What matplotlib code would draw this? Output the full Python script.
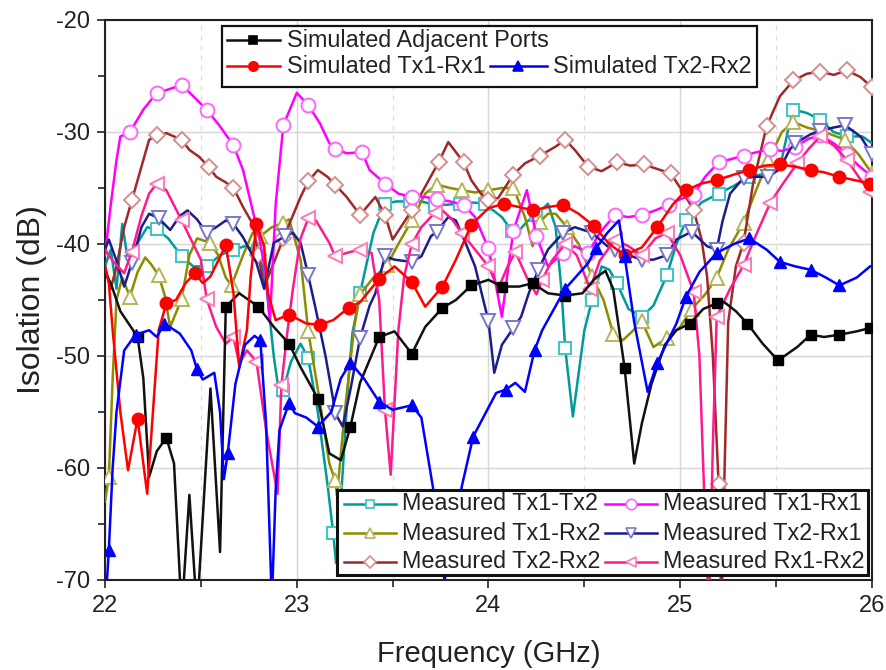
import matplotlib
matplotlib.use('Agg')
import matplotlib.pyplot as plt
from matplotlib.patches import Rectangle

plt.rcParams['font.family'] = ['Liberation Sans', 'DejaVu Sans']
plt.rcParams['axes.unicode_minus'] = False

# ---------------- data: (frequency GHz, isolation dB, marker flag) ----------------
sim_adjacent = [
    (22.00, -42.5, 0), (22.03, -43.5, 0), (22.08, -46.0, 0), (22.17, -48.3, 1), (22.20, -52.0, 0),
    (22.23, -60.8, 0), (22.27, -58.5, 0), (22.32, -57.3, 1), (22.36, -59.6, 0), (22.40, -73.0, 0),
    (22.44, -62.4, 0), (22.48, -73.0, 0), (22.55, -52.9, 0), (22.60, -67.5, 0), (22.63, -45.6, 1),
    (22.70, -44.4, 0), (22.80, -45.6, 1), (22.88, -47.4, 0), (22.96, -48.9, 1), (23.02, -51.0, 0),
    (23.11, -53.8, 1), (23.17, -58.7, 0), (23.23, -59.3, 0), (23.28, -56.3, 1), (23.33, -52.4, 0),
    (23.43, -48.3, 1), (23.51, -47.8, 0), (23.60, -49.8, 1), (23.67, -47.4, 0), (23.76, -45.7, 1),
    (23.83, -45.0, 0), (23.91, -43.7, 1), (24.00, -43.2, 0), (24.07, -43.8, 1), (24.16, -43.8, 0),
    (24.23, -43.5, 1), (24.31, -44.4, 0), (24.40, -44.6, 1), (24.49, -44.4, 0), (24.56, -43.0, 0),
    (24.61, -42.4, 0), (24.65, -44.0, 0), (24.68, -47.5, 0), (24.71, -51.1, 1), (24.76, -59.6, 0),
    (24.80, -56.0, 0), (24.85, -52.5, 0), (24.92, -49.0, 0), (24.98, -47.7, 0), (25.05, -47.1, 1),
    (25.12, -45.8, 0), (25.19, -45.3, 1), (25.23, -45.2, 0), (25.29, -46.0, 0), (25.35, -47.1, 1),
    (25.43, -48.9, 0), (25.51, -50.4, 1), (25.61, -49.2, 0), (25.68, -48.1, 1), (25.75, -48.3, 0),
    (25.83, -48.1, 1), (25.92, -47.8, 0), (25.99, -47.5, 1),
]
sim_tx1rx1 = [
    (22.00, -42.0, 0), (22.02, -43.5, 0), (22.04, -47.7, 0), (22.08, -55.0, 0), (22.12, -60.2, 0),
    (22.17, -55.6, 1), (22.22, -62.3, 0), (22.25, -55.0, 0), (22.28, -47.7, 0), (22.32, -45.3, 1),
    (22.37, -45.0, 0), (22.42, -43.5, 0), (22.47, -42.6, 1), (22.51, -43.5, 0), (22.55, -42.9, 0),
    (22.59, -41.5, 0), (22.63, -40.1, 1), (22.67, -44.4, 0), (22.70, -51.0, 0), (22.74, -47.7, 0),
    (22.76, -42.9, 0), (22.79, -38.2, 1), (22.83, -40.2, 0), (22.85, -44.4, 0), (22.89, -46.8, 0),
    (22.96, -46.3, 1), (23.05, -47.1, 0), (23.12, -47.2, 1), (23.19, -46.8, 0), (23.27, -45.7, 1),
    (23.33, -45.2, 0), (23.43, -43.1, 1), (23.51, -42.0, 0), (23.60, -43.4, 1), (23.67, -45.6, 0),
    (23.76, -43.8, 1), (23.83, -41.4, 0), (23.91, -38.3, 1), (24.00, -36.8, 0), (24.08, -36.4, 1),
    (24.16, -36.7, 0), (24.23, -37.0, 1), (24.31, -36.7, 0), (24.39, -36.5, 1), (24.47, -37.3, 0),
    (24.55, -38.4, 1), (24.63, -40.0, 0), (24.71, -41.0, 1), (24.80, -40.3, 0), (24.88, -38.5, 1),
    (24.96, -36.5, 0), (25.03, -35.2, 1), (25.11, -34.6, 0), (25.19, -34.3, 1), (25.28, -33.8, 0),
    (25.36, -33.4, 1), (25.44, -33.0, 0), (25.52, -32.9, 1), (25.60, -33.1, 0), (25.68, -33.4, 1),
    (25.75, -33.6, 0), (25.83, -34.0, 1), (25.91, -34.3, 0), (25.99, -34.6, 1),
]
sim_tx2rx2 = [
    (22.00, -73.0, 0), (22.02, -67.3, 1), (22.04, -60.0, 0), (22.06, -55.0, 0), (22.10, -49.5, 0),
    (22.16, -48.1, 1), (22.23, -47.7, 0), (22.27, -48.3, 0), (22.31, -47.1, 1), (22.39, -48.0, 0),
    (22.45, -49.5, 0), (22.48, -51.2, 1), (22.51, -52.1, 0), (22.57, -51.5, 0), (22.60, -55.0, 0),
    (22.62, -61.0, 0), (22.64, -58.7, 1), (22.68, -52.5, 0), (22.73, -49.0, 0), (22.78, -48.2, 0),
    (22.81, -48.6, 1), (22.84, -56.0, 0), (22.87, -72.0, 0), (22.89, -62.0, 0), (22.91, -56.6, 0),
    (22.96, -54.2, 1), (22.99, -55.1, 0), (23.05, -55.5, 0), (23.11, -56.3, 1), (23.18, -55.0, 0),
    (23.23, -52.0, 0), (23.28, -50.6, 1), (23.35, -52.0, 0), (23.43, -54.1, 1), (23.50, -54.8, 0),
    (23.60, -54.4, 1), (23.65, -55.5, 0), (23.71, -61.7, 0), (23.77, -70.0, 0), (23.83, -67.0, 0),
    (23.86, -61.7, 0), (23.92, -57.2, 1), (24.04, -53.3, 0), (24.09, -53.0, 1), (24.14, -52.4, 0),
    (24.19, -53.2, 0), (24.24, -49.5, 1), (24.28, -47.7, 0), (24.40, -44.0, 1), (24.52, -41.7, 0),
    (24.56, -40.4, 1), (24.62, -39.0, 0), (24.68, -37.9, 0), (24.71, -41.1, 1), (24.76, -47.0, 0),
    (24.83, -53.2, 0), (24.88, -50.6, 1), (24.98, -47.1, 0), (25.03, -44.7, 1), (25.10, -42.5, 0),
    (25.19, -40.8, 1), (25.28, -40.0, 0), (25.36, -39.5, 1), (25.45, -40.5, 0), (25.52, -41.6, 1),
    (25.60, -42.0, 0), (25.68, -42.3, 1), (25.76, -43.0, 0), (25.83, -43.7, 1), (25.92, -43.0, 0),
    (25.99, -42.0, 0),
]
meas_tx1tx2 = [
    (22.00, -42.0, 0), (22.03, -40.5, 0), (22.06, -44.0, 0), (22.09, -38.2, 0), (22.12, -41.5, 0),
    (22.17, -39.9, 0), (22.22, -38.5, 0), (22.27, -38.7, 1), (22.33, -39.5, 0), (22.40, -41.1, 1),
    (22.46, -42.0, 0), (22.53, -42.0, 1), (22.60, -41.0, 0), (22.67, -40.5, 1), (22.73, -40.2, 0),
    (22.80, -40.6, 1), (22.84, -43.5, 0), (22.88, -50.0, 0), (22.91, -53.6, 0), (22.93, -53.0, 1),
    (22.97, -50.5, 0), (23.02, -48.9, 0), (23.06, -50.2, 1), (23.11, -55.0, 0), (23.16, -61.4, 0),
    (23.19, -65.8, 1), (23.205, -68.5, 0), (23.23, -63.0, 0), (23.27, -52.0, 0), (23.29, -48.0, 0),
    (23.33, -44.4, 1), (23.40, -39.0, 0), (23.46, -36.4, 1), (23.52, -36.2, 0), (23.59, -36.2, 1),
    (23.65, -36.2, 0), (23.72, -36.5, 1), (23.78, -36.5, 0), (23.85, -36.4, 1), (23.92, -36.3, 0),
    (23.98, -36.4, 1), (24.07, -37.6, 0), (24.12, -38.8, 1), (24.16, -38.8, 0), (24.20, -38.0, 0),
    (24.25, -37.4, 1), (24.31, -36.4, 0), (24.35, -38.5, 0), (24.38, -44.0, 0), (24.40, -49.3, 1),
    (24.44, -55.4, 0), (24.50, -47.7, 0), (24.54, -45.0, 1), (24.59, -42.0, 0), (24.63, -42.3, 0),
    (24.67, -43.5, 1), (24.73, -45.8, 0), (24.80, -46.5, 1), (24.86, -45.5, 0), (24.93, -42.8, 1),
    (24.98, -40.0, 0), (25.03, -37.9, 1), (25.11, -36.3, 0), (25.20, -35.5, 1), (25.28, -34.8, 0),
    (25.36, -34.0, 1), (25.45, -33.7, 0), (25.52, -33.2, 0), (25.56, -30.0, 0), (25.59, -28.0, 1),
    (25.66, -28.3, 0), (25.73, -28.9, 1), (25.80, -30.0, 0), (25.87, -30.4, 1), (25.95, -30.4, 0),
    (26.00, -31.0, 0),
]
meas_tx1rx2 = [
    (22.00, -63.0, 0), (22.02, -60.8, 1), (22.04, -52.0, 0), (22.06, -45.0, 0), (22.09, -43.0, 0),
    (22.13, -44.7, 1), (22.17, -42.5, 0), (22.21, -41.2, 0), (22.24, -41.8, 0), (22.28, -42.8, 1),
    (22.31, -44.5, 0), (22.34, -47.4, 0), (22.40, -44.9, 1), (22.44, -41.0, 0), (22.48, -39.5, 0),
    (22.55, -39.9, 1), (22.59, -41.0, 0), (22.63, -43.0, 0), (22.66, -43.7, 1), (22.72, -41.0, 0),
    (22.77, -39.0, 0), (22.81, -39.3, 1), (22.87, -38.5, 0), (22.93, -38.1, 1), (22.96, -37.8, 0),
    (23.02, -41.4, 0), (23.06, -47.8, 1), (23.12, -54.0, 0), (23.17, -59.6, 0), (23.20, -61.1, 1),
    (23.21, -62.5, 0), (23.25, -55.0, 0), (23.30, -47.4, 0), (23.33, -44.5, 1), (23.40, -43.0, 0),
    (23.47, -41.9, 1), (23.53, -40.0, 0), (23.60, -37.9, 1), (23.67, -35.5, 0), (23.73, -34.7, 1),
    (23.80, -35.0, 0), (23.86, -35.2, 1), (23.93, -35.4, 0), (24.00, -35.2, 1), (24.07, -35.0, 0),
    (24.13, -35.0, 1), (24.19, -37.6, 0), (24.23, -40.2, 0), (24.27, -38.0, 1), (24.31, -37.3, 0),
    (24.35, -37.3, 0), (24.41, -38.5, 1), (24.47, -40.0, 0), (24.54, -42.9, 1), (24.60, -45.0, 0),
    (24.65, -48.0, 1), (24.70, -48.6, 0), (24.75, -47.8, 0), (24.80, -46.9, 1), (24.86, -49.2, 0),
    (24.93, -48.4, 1), (25.00, -47.4, 0), (25.06, -45.8, 1), (25.13, -44.5, 0), (25.19, -43.0, 1),
    (25.25, -40.5, 0), (25.33, -38.1, 1), (25.40, -35.0, 0), (25.46, -32.5, 1), (25.53, -30.0, 0),
    (25.59, -29.1, 1), (25.66, -29.6, 0), (25.73, -29.9, 1), (25.80, -30.3, 0), (25.86, -30.7, 1),
    (25.93, -32.0, 0), (26.00, -33.7, 1),
]
meas_tx2rx2 = [
    (22.00, -42.0, 0), (22.03, -44.0, 0), (22.06, -42.0, 0), (22.10, -38.5, 0), (22.14, -36.1, 1),
    (22.20, -32.5, 0), (22.23, -30.7, 0), (22.27, -30.3, 1), (22.32, -30.1, 0), (22.40, -30.7, 1),
    (22.44, -31.6, 0), (22.49, -32.2, 0), (22.54, -33.1, 1), (22.58, -34.0, 0), (22.63, -34.5, 0),
    (22.67, -35.0, 1), (22.72, -36.7, 0), (22.77, -38.2, 0), (22.80, -41.0, 1), (22.83, -43.8, 0),
    (22.88, -41.7, 0), (22.93, -39.5, 1), (23.02, -35.8, 0), (23.06, -34.4, 1), (23.11, -33.4, 0),
    (23.16, -34.0, 0), (23.20, -34.7, 1), (23.26, -35.8, 0), (23.33, -37.4, 1), (23.41, -35.8, 0),
    (23.46, -37.4, 1), (23.50, -39.6, 0), (23.60, -37.0, 1), (23.65, -35.5, 0), (23.74, -32.7, 1),
    (23.79, -30.9, 0), (23.87, -32.7, 1), (23.91, -34.3, 0), (23.96, -35.5, 0), (24.00, -36.1, 1),
    (24.05, -35.9, 0), (24.13, -33.8, 1), (24.19, -32.8, 0), (24.27, -32.1, 1), (24.35, -31.3, 0),
    (24.40, -30.7, 1), (24.45, -31.6, 0), (24.52, -33.1, 1), (24.59, -33.5, 0), (24.67, -32.7, 1),
    (24.74, -33.0, 0), (24.81, -32.9, 1), (24.88, -33.3, 0), (24.95, -33.7, 1), (25.02, -35.5, 0),
    (25.07, -37.0, 1), (25.11, -39.5, 0), (25.14, -42.9, 0), (25.17, -50.0, 0), (25.20, -61.4, 1),
    (25.215, -73.0, 0), (25.23, -61.0, 0), (25.25, -47.0, 0), (25.29, -42.0, 0), (25.33, -39.9, 1),
    (25.38, -34.6, 0), (25.45, -29.5, 1), (25.52, -26.8, 0), (25.59, -25.4, 1), (25.66, -24.8, 0),
    (25.73, -24.6, 1), (25.80, -24.9, 0), (25.87, -24.5, 1), (25.94, -25.1, 0), (26.00, -26.0, 1),
]
meas_tx1rx1 = [
    (22.00, -41.0, 0), (22.03, -36.5, 0), (22.06, -32.5, 0), (22.08, -30.4, 0), (22.13, -30.0, 1),
    (22.20, -28.0, 0), (22.27, -26.5, 1), (22.33, -26.2, 0), (22.40, -25.8, 1), (22.46, -26.8, 0),
    (22.53, -28.0, 1), (22.60, -29.5, 0), (22.67, -31.2, 1), (22.72, -33.4, 0), (22.77, -37.0, 0),
    (22.81, -39.9, 0), (22.84, -43.0, 0), (22.86, -47.0, 0), (22.89, -36.5, 0), (22.93, -29.4, 1),
    (23.00, -26.5, 0), (23.06, -27.6, 1), (23.12, -29.2, 0), (23.17, -31.0, 0), (23.20, -31.5, 1),
    (23.26, -31.9, 0), (23.34, -31.8, 1), (23.38, -33.4, 0), (23.46, -34.6, 1), (23.53, -35.5, 0),
    (23.60, -35.8, 1), (23.67, -35.8, 0), (23.73, -36.0, 1), (23.80, -36.2, 0), (23.87, -36.5, 1),
    (23.93, -37.6, 0), (24.00, -40.4, 1), (24.03, -42.9, 0), (24.07, -46.5, 0), (24.10, -42.5, 0),
    (24.13, -38.8, 1), (24.20, -35.2, 0), (24.25, -39.3, 1), (24.31, -42.0, 0), (24.39, -40.8, 1),
    (24.45, -40.2, 0), (24.52, -40.8, 1), (24.58, -39.0, 0), (24.66, -37.4, 1), (24.73, -37.6, 0),
    (24.80, -37.4, 1), (24.87, -37.0, 0), (24.94, -36.5, 1), (25.00, -36.0, 0), (25.07, -35.6, 1),
    (25.13, -34.0, 0), (25.20, -32.7, 1), (25.27, -32.4, 0), (25.33, -32.1, 1), (25.40, -31.8, 0),
    (25.47, -31.5, 1), (25.53, -31.7, 0), (25.60, -31.3, 1), (25.67, -30.6, 0), (25.73, -30.3, 1),
    (25.80, -31.0, 0), (25.87, -32.0, 1), (25.93, -33.0, 0), (26.00, -34.0, 1),
]
meas_tx2rx1 = [
    (22.00, -40.5, 0), (22.02, -39.6, 0), (22.06, -41.5, 0), (22.10, -43.8, 0), (22.14, -41.7, 1),
    (22.19, -38.5, 0), (22.23, -37.3, 0), (22.28, -37.7, 1), (22.34, -38.75, 0), (22.39, -37.5, 0),
    (22.43, -37.0, 0), (22.48, -37.8, 0), (22.53, -39.0, 1), (22.58, -38.5, 0), (22.63, -37.9, 0),
    (22.67, -38.2, 1), (22.72, -39.4, 0), (22.79, -41.7, 0), (22.83, -44.0, 0), (22.88, -39.9, 0),
    (22.94, -39.3, 1), (22.98, -39.0, 0), (23.02, -39.9, 0), (23.06, -42.8, 1), (23.10, -45.9, 0),
    (23.15, -50.0, 0), (23.19, -53.9, 0), (23.20, -55.1, 1), (23.24, -56.3, 0), (23.28, -53.0, 0),
    (23.33, -48.4, 1), (23.38, -45.5, 0), (23.41, -44.4, 0), (23.46, -41.1, 1), (23.51, -41.4, 0),
    (23.60, -41.6, 1), (23.65, -41.1, 0), (23.70, -39.3, 0), (23.73, -38.9, 1), (23.79, -37.6, 0),
    (23.83, -37.9, 0), (23.88, -39.9, 0), (23.93, -42.0, 0), (24.00, -46.9, 1), (24.03, -51.5, 0),
    (24.07, -49.0, 0), (24.13, -47.5, 1), (24.17, -46.5, 0), (24.21, -44.4, 0), (24.26, -42.3, 1),
    (24.31, -40.5, 0), (24.39, -39.0, 1), (24.45, -38.5, 0), (24.54, -39.0, 1), (24.62, -40.2, 0),
    (24.66, -40.5, 1), (24.73, -41.0, 0), (24.80, -41.4, 1), (24.86, -41.4, 0), (24.93, -41.0, 1),
    (24.98, -39.6, 0), (25.06, -38.9, 1), (25.14, -40.2, 0), (25.19, -40.5, 1), (25.22, -38.0, 0),
    (25.26, -35.5, 0), (25.33, -34.1, 1), (25.40, -34.0, 0), (25.46, -34.0, 1), (25.52, -33.3, 0),
    (25.57, -31.6, 0), (25.60, -31.0, 1), (25.68, -30.2, 0), (25.73, -29.9, 1), (25.80, -29.6, 0),
    (25.86, -29.4, 1), (25.94, -30.4, 0), (26.00, -32.0, 1),
]
meas_rx1rx2 = [
    (22.00, -40.5, 0), (22.04, -41.5, 0), (22.10, -42.6, 0), (22.14, -40.7, 1), (22.19, -37.5, 0),
    (22.23, -35.5, 0), (22.27, -34.6, 1), (22.32, -35.2, 0), (22.40, -37.9, 1), (22.46, -40.0, 0),
    (22.50, -41.4, 0), (22.53, -44.9, 1), (22.58, -47.4, 0), (22.63, -48.9, 0), (22.67, -48.3, 1),
    (22.70, -50.7, 0), (22.74, -49.5, 0), (22.79, -50.5, 1), (22.84, -56.6, 0), (22.90, -62.3, 0),
    (22.92, -52.6, 1), (22.95, -48.0, 0), (22.98, -44.0, 0), (23.02, -39.5, 0), (23.06, -37.7, 1),
    (23.10, -37.9, 0), (23.17, -39.9, 0), (23.20, -41.1, 1), (23.26, -40.8, 0), (23.33, -40.5, 1),
    (23.39, -40.8, 0), (23.43, -45.0, 0), (23.46, -54.8, 1), (23.49, -60.6, 0), (23.53, -47.7, 0),
    (23.56, -42.9, 0), (23.60, -40.0, 1), (23.65, -38.5, 0), (23.72, -37.2, 1), (23.76, -37.0, 0),
    (23.81, -37.8, 0), (23.86, -39.0, 1), (23.93, -40.5, 0), (24.00, -42.0, 1), (24.05, -44.0, 0),
    (24.10, -42.0, 0), (24.14, -40.7, 1), (24.20, -43.0, 0), (24.25, -44.5, 0), (24.28, -43.2, 1),
    (24.33, -41.5, 0), (24.40, -40.0, 1), (24.46, -41.0, 0), (24.53, -44.0, 1), (24.58, -41.5, 0),
    (24.66, -39.6, 1), (24.73, -40.2, 0), (24.80, -41.0, 1), (24.87, -39.5, 0), (24.93, -39.0, 1),
    (25.00, -41.0, 0), (25.07, -44.3, 1), (25.10, -50.0, 0), (25.12, -60.0, 0), (25.15, -73.0, 0),
    (25.17, -58.0, 0), (25.19, -46.5, 1), (25.26, -44.0, 0), (25.33, -41.9, 1), (25.40, -39.0, 0),
    (25.47, -36.3, 1), (25.54, -34.5, 0), (25.61, -32.8, 1), (25.67, -31.5, 0), (25.73, -30.4, 1),
    (25.80, -31.2, 0), (25.87, -32.5, 1), (25.93, -34.0, 0), (25.99, -35.4, 1),
]

sim_labels = ['Simulated Adjacent Ports', 'Simulated Tx1-Rx1', 'Simulated Tx2-Rx2']
meas_labels = ['Measured Tx1-Tx2', 'Measured Tx1-Rx2', 'Measured Tx2-Rx2',
               'Measured Tx1-Rx1', 'Measured Tx2-Rx1', 'Measured Rx1-Rx2']
x_ticks = [22, 23, 24, 25, 26]
y_ticks = [-70, -60, -50, -40, -30, -20]

# ---------------- styles ----------------
# (data, line color, marker, face, edge, size)
meas_styles = [
    (meas_tx1tx2, '#009a9a', 's', 'white', '#3cc4c4', 8.0),
    (meas_tx1rx2, '#8c8c00', '^', 'white', '#b5b55a', 10.0),
    (meas_tx2rx2, '#a02828', 'D', 'white', '#d49090', 8.5),
    (meas_tx1rx1, '#ff00ff', 'o', 'white', '#ff66ff', 10.0),
    (meas_tx2rx1, '#1c1c8c', 'v', 'white', '#7878c8', 10.0),
    (meas_rx1rx2, '#ff1a8c', '<', 'white', '#ff78b8', 10.0),
]
sim_styles = [
    (sim_adjacent, '#111111', 's', '#000000', '#000000', 7.5),
    (sim_tx1rx1, '#ff0000', 'o', '#ff0000', '#ff0000', 9.0),
    (sim_tx2rx2, '#0000ff', '^', '#0000ff', '#0000ff', 9.0),
]

W, H = 887, 670
fig = plt.figure(figsize=(W / 100, H / 100), dpi=100)
ax = fig.add_axes([105 / W, (H - 580) / H, 767 / W, 560 / H])


def unpack(d):
    return [p[0] for p in d], [p[1] for p in d], [bool(p[2]) for p in d]


for data, col, mk, fc, ec, ms in meas_styles:
    f, v, m = unpack(data)
    ax.plot(f, v, color=col, lw=1.8, marker=mk, markevery=m, ms=ms,
            mfc=fc, mec=ec, mew=1.4, zorder=3)
for data, col, mk, fc, ec, ms in sim_styles:
    f, v, m = unpack(data)
    ax.plot(f, v, color=col, lw=1.8, marker=mk, markevery=m, ms=ms,
            mfc=fc, mec=ec, mew=1.0, zorder=4)

ax.set_xlim(22, 26)
ax.set_ylim(-70, -20)
ax.set_xticks(x_ticks)
ax.set_xticks([22.5, 23.5, 24.5, 25.5], minor=True)
ax.set_yticks(y_ticks)
ax.set_yticks([-65, -55, -45, -35, -25], minor=True)
ax.set_xticklabels([str(t) for t in x_ticks])
ax.set_yticklabels([str(t) for t in y_ticks])
ax.tick_params(which='both', direction='out', labelsize=17, width=1.2,
               colors='#222222', pad=5)
ax.tick_params(which='major', length=6)
ax.tick_params(which='minor', length=5)
ax.grid(which='major', color='#d6d6d6', lw=1.0)
ax.xaxis.grid(which='minor', color='#dedede', lw=0.9, ls=(0, (4, 4)))
ax.set_axisbelow(True)
for s in ax.spines.values():
    s.set_linewidth(1.5)
    s.set_color('#222222')

ax.set_xlabel('Frequency (GHz)', fontsize=21, color='#222222', labelpad=16)
ax.set_ylabel('Isolation (dB)', fontsize=23, color='#222222', labelpad=6)


# ---------------- legends (drawn manually, Origin style) ----------------
def ax_x(px):
    return (px - 105) / 767


def ax_y(py):
    return (580 - py) / 560


def legend_entry(x1, x2, y, text_x, style, label, fs=16.8):
    data, col, mk, fc, ec, ms = style
    ax.plot([ax_x(x1), ax_x(x2)], [ax_y(y), ax_y(y)], transform=ax.transAxes,
            color=col, lw=1.8, zorder=11, clip_on=False)
    ax.plot([ax_x((x1 + x2) / 2)], [ax_y(y)], transform=ax.transAxes,
            marker=mk, ms=ms * 0.75, mfc=fc, mec=ec, mew=1.2, zorder=12, clip_on=False)
    ax.text(ax_x(text_x), ax_y(y), label, transform=ax.transAxes, fontsize=fs,
            va='center', ha='left', color='#222222', zorder=12)


ax.add_patch(Rectangle((ax_x(222), ax_y(87)), ax_x(757) - ax_x(222), ax_y(26) - ax_y(87),
                       transform=ax.transAxes, fc='white', ec='#111111', lw=1.6, zorder=10))
legend_entry(227, 280, 40, 287, sim_styles[0], sim_labels[0])
legend_entry(227, 280, 66, 287, sim_styles[1], sim_labels[1])
legend_entry(490, 547, 66, 553, sim_styles[2], sim_labels[2])

ax.add_patch(Rectangle((ax_x(337), ax_y(575)), ax_x(868) - ax_x(337), ax_y(490) - ax_y(575),
                       transform=ax.transAxes, fc='white', ec='#111111', lw=2.2, zorder=10))
rows = [504, 533, 562]
for i in range(3):
    legend_entry(344, 396, rows[i], 402, meas_styles[i], meas_labels[i])
    legend_entry(605, 657, rows[i], 663, meas_styles[i + 3], meas_labels[i + 3])

fig.savefig('out.png', dpi=100)
